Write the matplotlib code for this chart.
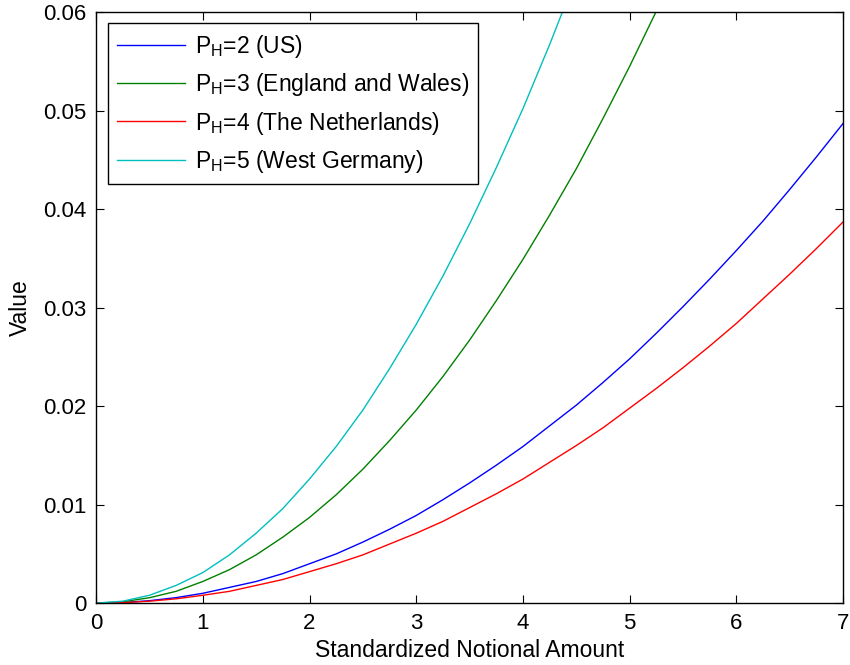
import numpy as np
import matplotlib.pyplot as plt

plt.rcParams['font.family'] = ['Liberation Sans', 'DejaVu Sans']
plt.rcParams['mathtext.fontset'] = 'custom'
plt.rcParams['mathtext.rm'] = 'Liberation Sans'

# values, every 0.25 of the notional amount
x = np.arange(0, 7.01, 0.25)
us = [0, 0.00006, 0.00025, 0.00056, 0.0010, 0.0016, 0.0022, 0.0030, 0.0040,
      0.0050, 0.0062, 0.0075, 0.0089, 0.0105, 0.0122, 0.0140, 0.0159,
      0.0180, 0.0201, 0.0224, 0.0248, 0.0274, 0.0301, 0.0329, 0.0358,
      0.0388, 0.0420, 0.0453, 0.0487]
ew = [0, 0.00014, 0.00055, 0.0012, 0.0022, 0.0034, 0.0049, 0.0067, 0.0087,
      0.0110, 0.0136, 0.0165, 0.0196, 0.0230, 0.0267, 0.0307, 0.0349,
      0.0394, 0.0441, 0.0492, 0.0545, 0.0601, 0.0659]
nl = [0, 0.00005, 0.0002, 0.00044, 0.0008, 0.0012, 0.0018, 0.0024, 0.0032,
      0.0040, 0.0049, 0.0060, 0.0071, 0.0083, 0.0097, 0.0111, 0.0126,
      0.0143, 0.0160, 0.0178, 0.0198, 0.0218, 0.0239, 0.0261, 0.0284,
      0.0309, 0.0334, 0.0360, 0.0387]
wg = [0, 0.0002, 0.0008, 0.0018, 0.0031, 0.0049, 0.0071, 0.0096, 0.0126,
      0.0159, 0.0196, 0.0238, 0.0283, 0.0332, 0.0385, 0.0442, 0.0502,
      0.0567, 0.0636]

labels = [r'P$_\mathregular{H}$=2 (US)',
          r'P$_\mathregular{H}$=3 (England and Wales)',
          r'P$_\mathregular{H}$=4 (The Netherlands)',
          r'P$_\mathregular{H}$=5 (West Germany)']
series = [us, ew, nl, wg]
colors = ['#0000ff', '#008000', '#ff0000', '#00bfbf']

fig = plt.figure(figsize=(8.5, 6.65), dpi=100)
ax = fig.add_axes([0.113, 0.093, 0.879, 0.889])

for s, c, lab in zip(series, colors, labels):
    ax.plot(x[:len(s)], s, color=c, lw=1, label=lab)

ax.set_xlim(0, 7)
ax.set_ylim(0, 0.06)
ax.set_xticks(range(8))
ax.set_yticks(np.arange(0, 0.061, 0.01))
ax.set_yticklabels(['0', '0.01', '0.02', '0.03', '0.04', '0.05', '0.06'])
ax.tick_params(direction='in', labelsize=16, top=True, right=True, length=6, pad=7)
for sp in ax.spines.values():
    sp.set_linewidth(1)
ax.set_xlabel('Standardized Notional Amount', fontsize=16.5, labelpad=4)
ax.set_ylabel('Value', fontsize=16.5, labelpad=8)

leg = ax.legend(loc='upper left', fontsize=16.5, fancybox=False, edgecolor='black',
                framealpha=1, handlelength=3.0, handletextpad=0.4,
                borderaxespad=0.5, labelspacing=0.5, borderpad=0.4)
leg.get_frame().set_linewidth(1)

fig.savefig('out.png', dpi=100)
